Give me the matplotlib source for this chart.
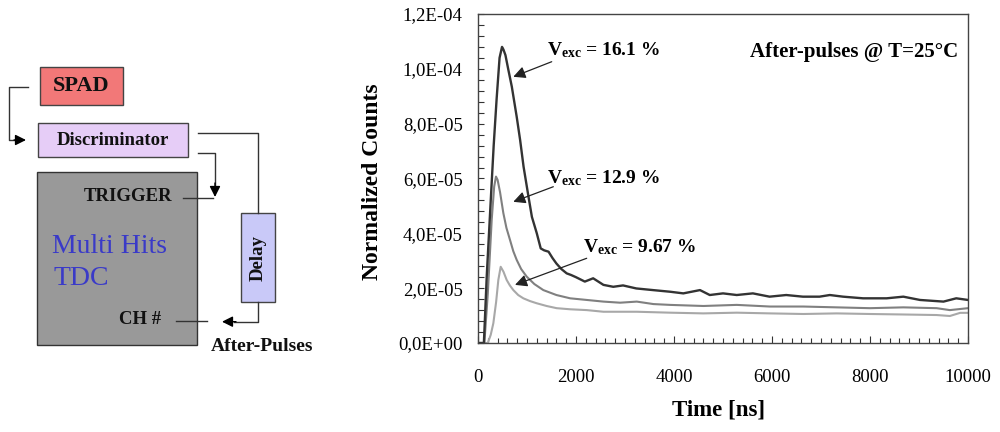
import matplotlib
matplotlib.use('Agg')
import matplotlib.pyplot as plt
from matplotlib.patches import Rectangle
from matplotlib.ticker import MultipleLocator, FuncFormatter

plt.rcParams['font.family'] = ['Liberation Serif', 'DejaVu Serif']
plt.rcParams['mathtext.fontset'] = 'custom'
plt.rcParams['mathtext.rm'] = 'Liberation Serif'
plt.rcParams['mathtext.bf'] = 'Liberation Serif:bold'

# after-pulse histograms, time in ns, counts in units of 1e-5
t_161 = [0, 120, 180, 260, 320, 380, 440, 490, 520, 560, 620, 690, 790, 860, 930,
         1030, 1100, 1200, 1280, 1350, 1440, 1520, 1600, 1700, 1810, 1900, 2000,
         2180, 2350, 2560, 2760, 2960, 3230, 3570, 3920, 4190, 4530, 4730, 5000,
         5280, 5610, 5950, 6290, 6630, 6970, 7180, 7450, 7860, 8340, 8680, 9020,
         9500, 9760, 10000]
v_161 = [0, 0, 2.5, 5.2, 7.2, 8.9, 10.4, 10.8, 10.7, 10.5, 9.96, 9.35, 8.25, 7.4, 6.43,
         5.34, 4.6, 4.0, 3.45, 3.38, 3.33, 3.1, 2.9, 2.7, 2.54, 2.48, 2.4,
         2.24, 2.36, 2.12, 2.05, 2.1, 1.99, 1.93, 1.87, 1.81, 1.93, 1.75, 1.81,
         1.75, 1.81, 1.69, 1.75, 1.69, 1.69, 1.75, 1.69, 1.63, 1.63, 1.69, 1.57,
         1.51, 1.63, 1.57]

t_129 = [0, 130, 200, 280, 330, 367, 400, 450, 517, 580, 653, 720, 790, 880, 994,
         1150, 1333, 1600, 1880, 2220, 2560, 2900, 3240, 3580, 3920, 4600, 5280,
         5960, 6640, 7320, 8000, 8680, 9360, 9630, 10000]
v_129 = [0, 0, 1.8, 4.5, 5.7, 6.07, 5.95, 5.5, 4.74, 4.2, 3.76, 3.35, 3.03, 2.7, 2.42,
         2.15, 1.93, 1.75, 1.63, 1.57, 1.51, 1.47, 1.51, 1.42, 1.39, 1.35, 1.39,
         1.33, 1.33, 1.30, 1.27, 1.30, 1.27, 1.20, 1.27]

t_967 = [0, 200, 260, 313, 370, 415, 463, 520, 585, 650, 721, 820, 925, 1060, 1197,
         1400, 1605, 1880, 2220, 2560, 3240, 3920, 4600, 5280, 5960, 6640, 7320,
         8000, 8680, 9360, 9630, 9840, 10000]
v_967 = [0, 0, 0.3, 0.72, 1.5, 2.3, 2.78, 2.6, 2.3, 2.1, 1.93, 1.75, 1.63, 1.53, 1.45,
         1.35, 1.27, 1.23, 1.2, 1.14, 1.14, 1.106, 1.08, 1.106, 1.08, 1.058, 1.08,
         1.058, 1.04, 1.02, 0.985, 1.1, 1.1]

fig = plt.figure(figsize=(10, 4.32), dpi=100)

# ---- block diagram (pixel coordinates) ----
d = fig.add_axes([0, 0, 1, 1])
d.set_xlim(0, 1000)
d.set_ylim(432, 0)
d.axis('off')

line_kw = dict(color='#333333', lw=1.0)
arrow_kw = dict(arrowstyle='-|>', color='black', lw=1.0, mutation_scale=16,
                shrinkA=0, shrinkB=0)
bold = dict(fontweight='bold', color='#111111', ha='center', va='center')

d.add_patch(Rectangle((40, 66.7), 83.3, 38.3, fc='#f27878', ec='#444444', lw=1))
d.text(81.5, 86, 'SPAD', fontsize=16, **bold)
d.plot([28, 9.3, 9.3, 16], [87.3, 87.3, 140, 140], **line_kw)
d.annotate('', xy=(26, 140), xytext=(14, 140), arrowprops=arrow_kw)

d.add_patch(Rectangle((38.3, 122.7), 150, 34.6, fc='#e6cdf7', ec='#444444', lw=1))
d.text(113, 140.5, 'Discriminator', fontsize=13.5, **bold)

d.plot([198.3, 258.3, 258.3], [132.7, 132.7, 213.3], **line_kw)
d.plot([198.3, 215, 215], [153.3, 153.3, 185], **line_kw)
d.annotate('', xy=(215, 197), xytext=(215, 183), arrowprops=arrow_kw)

d.add_patch(Rectangle((37.3, 172.3), 160, 172.7, fc='#999999', ec='#333333', lw=1))
d.text(128, 196.5, 'TRIGGER', fontsize=13.5, **bold)
d.plot([182.7, 213.3], [197.7, 197.7], **line_kw)
d.text(51.5, 246.7, 'Multi Hits', fontsize=20, color='#3a3ac8', ha='left', va='center')
d.text(53, 278.3, 'TDC', fontsize=20, color='#3a3ac8', ha='left', va='center')
d.text(140, 320, 'CH #', fontsize=13.5, **bold)
d.plot([176, 207.3], [320.7, 320.7], **line_kw)

d.add_patch(Rectangle((240.7, 213.3), 34.6, 89, fc='#c9c9f8', ec='#444444', lw=1))
d.text(258, 258, 'Delay', fontsize=13.5, rotation=90, **bold)
d.plot([258.3, 258.3, 234], [302.3, 321.7, 321.7], **line_kw)
d.annotate('', xy=(222, 321.7), xytext=(236, 321.7), arrowprops=arrow_kw)
d.text(261.7, 346.7, 'After-Pulses', fontsize=14, **bold)

# ---- after-pulse chart ----
ax = fig.add_axes([0.478, 1 - 343 / 432, 0.49, 329 / 432])
ax.plot(t_967, [v * 1e-5 for v in v_967], color='#a8a8a8', lw=1.5)
ax.plot(t_129, [v * 1e-5 for v in v_129], color='#808080', lw=1.5)
ax.plot(t_161, [v * 1e-5 for v in v_161], color='#333333', lw=1.7)

ax.set_xlim(0, 10000)
ax.set_ylim(0, 1.2e-4)
ax.xaxis.set_major_locator(MultipleLocator(2000))
ax.xaxis.set_minor_locator(MultipleLocator(200))
ax.yaxis.set_major_locator(MultipleLocator(2e-5))
ax.yaxis.set_minor_locator(MultipleLocator(4e-6))
ax.yaxis.set_major_formatter(FuncFormatter(lambda v, p: f'{v:.1E}'.replace('.', ',')))
ax.tick_params(which='both', direction='in', top=False, right=False,
               labelsize=13.5, colors='#333333', labelcolor='black', width=0.8)
ax.tick_params(axis='x', which='major', length=5, pad=19)
ax.tick_params(axis='x', which='minor', length=3.5)
ax.tick_params(axis='y', which='both', length=4, pad=11)
for s in ax.spines.values():
    s.set_color('#444444')
    s.set_linewidth(1.0)

ax.set_xlabel('Time [ns]', fontsize=16.5, fontweight='bold', va='center')
ax.xaxis.set_label_coords(0.49, -0.204)
ax.set_ylabel('Normalized Counts', fontsize=17, fontweight='bold', va='center')
ax.yaxis.set_label_coords(-0.216, 0.49)

ax.text(9796, 1.062e-4, 'After-pulses @ T=25°C', fontsize=15, fontweight='bold',
        ha='right', va='center')

notes = [(r'$\mathbf{V_{exc}}$ = 16.1 %', (1408, 1.069e-4), (1504, 1.026e-4), (720, 0.971e-4)),
         (r'$\mathbf{V_{exc}}$ = 12.9 %', (1408, 0.602e-4), (1537, 0.570e-4), (720, 0.515e-4)),
         (r'$\mathbf{V_{exc}}$ = 9.67 %', (2143, 0.351e-4), (2218, 0.309e-4), (755, 0.212e-4))]
for label, pos, tail, head in notes:
    ax.text(pos[0], pos[1], label, fontsize=14, fontweight='bold', ha='left', va='center')
    ax.annotate('', xy=head, xytext=tail,
                arrowprops=dict(arrowstyle='-|>', color='#222222', lw=0.9,
                                mutation_scale=18, shrinkA=0, shrinkB=0))

fig.savefig('out.png', dpi=100)
